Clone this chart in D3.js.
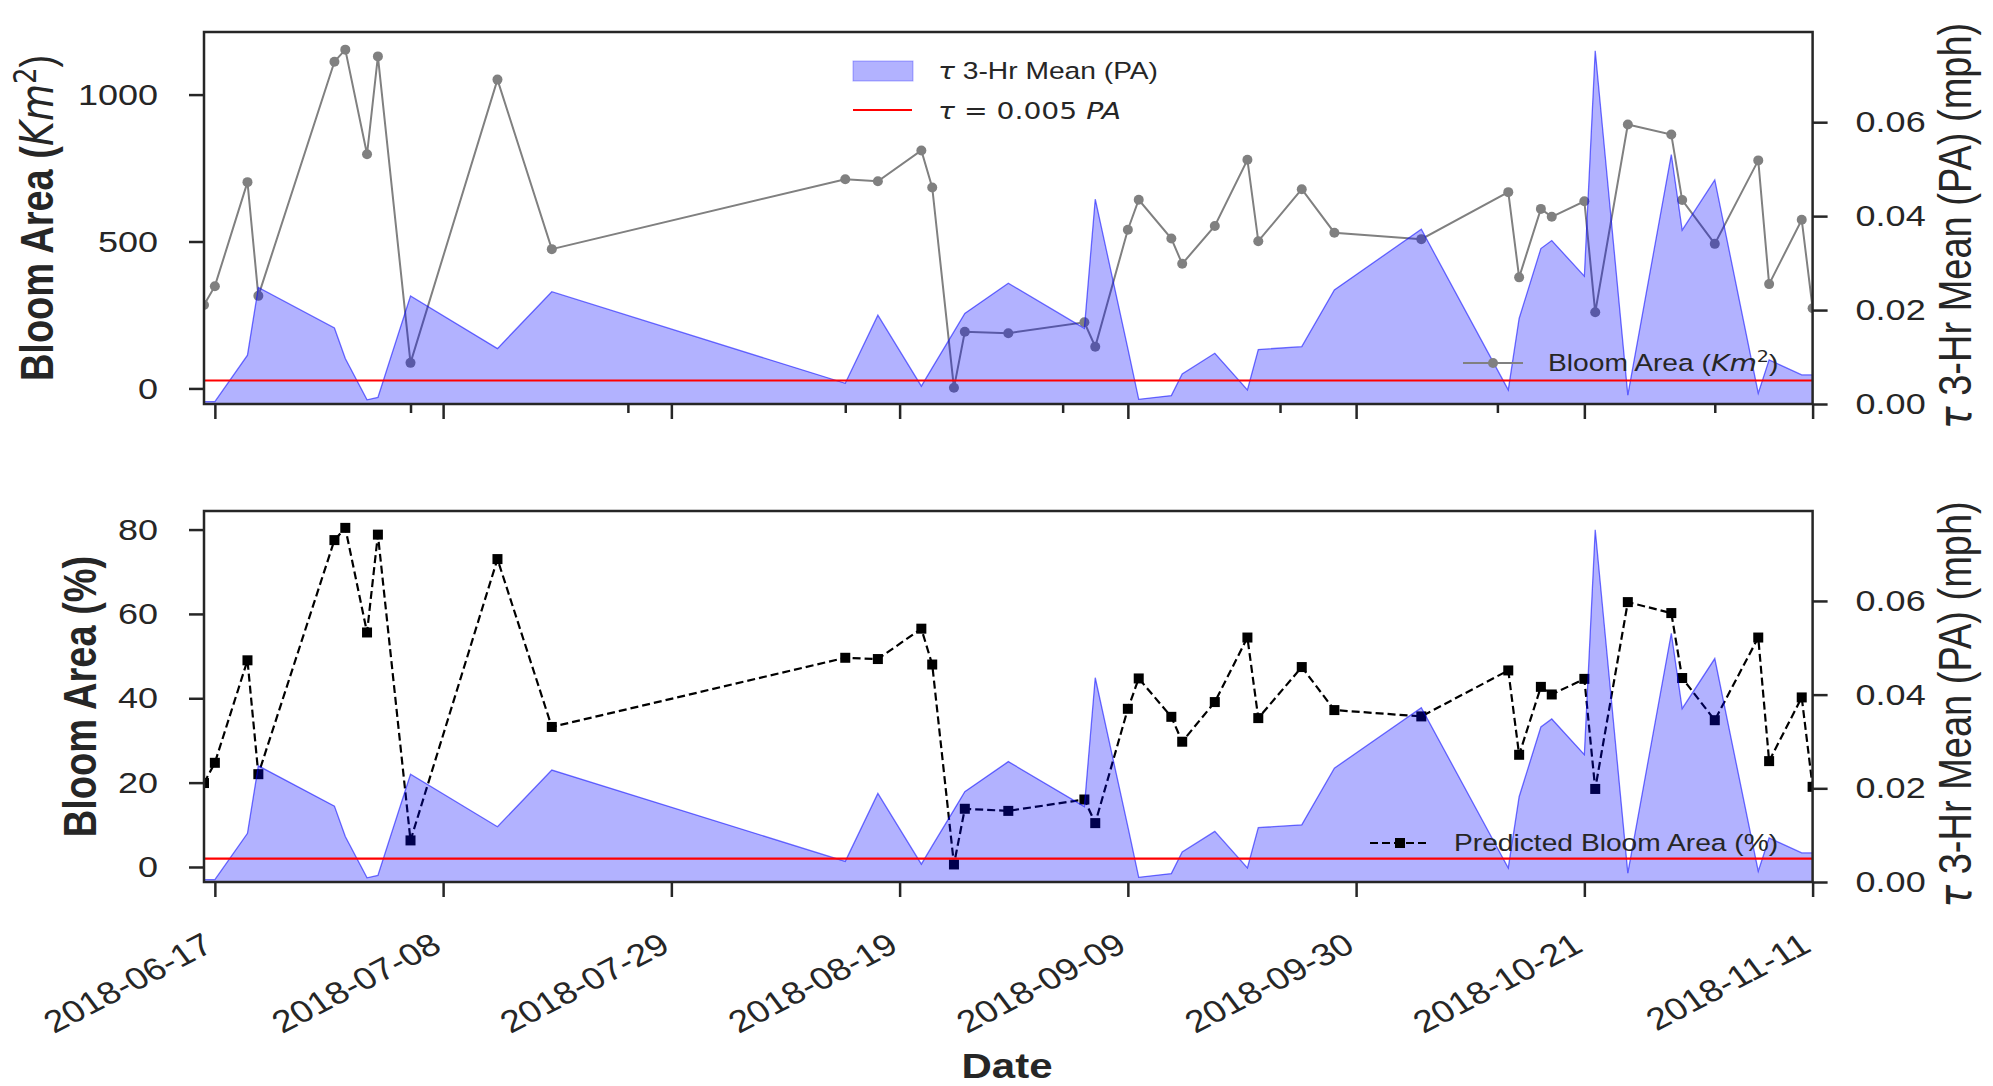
<!DOCTYPE html>
<html><head><meta charset="utf-8">
<script src="https://cdn.jsdelivr.net/npm/d3@7"></script>
<style>body{margin:0;background:#fff} svg{display:block}</style>
</head><body><svg id="c" width="1993" height="1086"></svg>
<script>
// ---------- data ----------
const dates = ["2018-06-16","2018-06-17","2018-06-20","2018-06-21","2018-06-28","2018-06-29","2018-07-01","2018-07-02","2018-07-05","2018-07-13","2018-07-18","2018-08-14","2018-08-17","2018-08-21","2018-08-22","2018-08-24","2018-08-25","2018-08-29","2018-09-05","2018-09-06","2018-09-09","2018-09-10","2018-09-13","2018-09-14","2018-09-17","2018-09-20","2018-09-21","2018-09-25","2018-09-28","2018-10-06","2018-10-14","2018-10-15","2018-10-17","2018-10-18","2018-10-21","2018-10-22","2018-10-25","2018-10-29","2018-10-30","2018-11-02","2018-11-06","2018-11-07","2018-11-10","2018-11-11"];
const bloomKm2 = [284,348,702,315,1112,1153,797,1130,87,1051,474,712,705,810,684,2,193,188,225,142,540,642,510,424,553,778,501,678,530,508,668,378,611,584,637,259,898,864,641,492,776,355,574,273];
const bloomPct = [19.9,24.7,49.0,22.0,77.5,80.4,55.6,78.8,6.3,73.0,33.2,49.6,49.3,56.5,48.0,0.6,13.8,13.3,16.0,10.4,37.5,44.7,35.6,29.7,39.1,54.4,35.3,47.4,37.2,35.7,46.6,26.6,42.7,40.9,44.6,18.5,62.8,60.2,44.8,34.8,54.4,25.1,40.2,19.0];
const tauMean = [0.0005,0.0005,0.0104,0.0248,0.0162,0.0097,0.0009,0.0014,0.0230,0.0118,0.0239,0.0044,0.0189,0.0038,0.0077,0.0154,0.0193,0.0257,0.0161,0.0436,0.0118,0.0010,0.0018,0.0064,0.0108,0.0030,0.0116,0.0122,0.0243,0.0372,0.0030,0.0182,0.0331,0.0348,0.0272,0.0752,0.0019,0.0531,0.0370,0.0477,0.0023,0.0094,0.0062,0.0062];
const tauThreshold = 0.005;
const majorTickDates = ["2018-06-17","2018-07-08","2018-07-29","2018-08-19","2018-09-09","2018-09-30","2018-10-21","2018-11-11"];
const minorTickDates = ["2018-07-05","2018-07-25","2018-08-14","2018-09-03","2018-09-23","2018-10-13","2018-11-02"];
const leftTicksTop = [0,500,1000];
const leftTicksBot = [0,20,40,60,80];
const rightTicks = [0,0.02,0.04,0.06];

// ---------- setup ----------
const SX = 1.2;
const INK = "#262626";
const SANS = "'Liberation Sans', Arial, sans-serif";
const MATH = "'DejaVu Sans', sans-serif";
const parseD = d3.timeParse("%Y-%m-%d");
const dts = dates.map(parseD);
const svg = d3.select("#c");
const X0 = 204, X1 = 1812.6;
const panels = [
  {t:32, b:404, left:bloomKm2, dom:[-53,1213], ticks:leftTicksTop, kind:"km"},
  {t:511, b:882, left:bloomPct, dom:[-3.56,84.4], ticks:leftTicksBot, kind:"pct"}
];
const x = d3.scaleTime().domain(d3.extent(dts)).range([X0,X1]);

function stretch(sel){
  sel.each(function(){
    const t = d3.select(this);
    const tx = +t.attr("x")||0, ty = +t.attr("y")||0;
    t.attr("x",0).attr("y",0).attr("transform",`translate(${tx},${ty}) scale(${SX},1)`);
  });
}
function styleAxis(g){
  g.select(".domain").remove();
  g.selectAll(".tick line").attr("stroke",INK).attr("stroke-width",2.5);
  g.selectAll(".tick text").attr("fill",INK).style("font-family",SANS).style("font-size","30px");
}

panels.forEach((p,i)=>{
  const yL = d3.scaleLinear().domain(p.dom).range([p.b,p.t]);
  const yR = d3.scaleLinear().domain([0,0.0792]).range([p.b,p.t]);
  const cid = "clip"+i;
  svg.append("clipPath").attr("id",cid).append("rect")
    .attr("x",X0).attr("y",p.t).attr("width",X1-X0).attr("height",p.b-p.t);
  const g = svg.append("g").attr("clip-path",`url(#${cid})`);
  const pts = dts.map((d,k)=>({d, v:p.left[k], tau:tauMean[k]}));

  // left series
  const line = d3.line().x(d=>x(d.d)).y(d=>yL(d.v));
  if(p.kind==="km"){
    g.append("path").datum(pts).attr("d",line).attr("fill","none")
      .attr("stroke","#808080").attr("stroke-width",2);
    g.selectAll("circle.m").data(pts).join("circle").attr("class","m")
      .attr("cx",d=>x(d.d)).attr("cy",d=>yL(d.v)).attr("r",5).attr("fill","#808080");
  } else {
    g.append("path").datum(pts).attr("d",line).attr("fill","none")
      .attr("stroke","#000").attr("stroke-width",2.2).attr("stroke-dasharray","8,4");
    g.selectAll("rect.m").data(pts).join("rect").attr("class","m")
      .attr("x",d=>x(d.d)-5).attr("y",d=>yL(d.v)-5).attr("width",10).attr("height",10).attr("fill","#000");
  }

  // legend for left series (drawn under the area)
  const lg = svg.append("g");
  if(p.kind==="km"){
    const ly = 363;
    lg.append("line").attr("x1",1463).attr("x2",1523).attr("y1",ly).attr("y2",ly)
      .attr("stroke","#808080").attr("stroke-width",2);
    lg.append("circle").attr("cx",1493).attr("cy",ly).attr("r",5).attr("fill","#808080");
    const t = lg.append("text").attr("transform",`translate(1548,${ly+8}) scale(${SX},1)`)
      .attr("fill",INK).style("font-family",SANS).style("font-size","23.5px");
    t.append("tspan").text("Bloom Area (");
    t.append("tspan").style("font-family",MATH).style("font-style","italic").text("Km");
    t.append("tspan").attr("dy",-9).style("font-family",MATH).style("font-size","16px").text("2");
    t.append("tspan").attr("dy",9).text(")");
  } else {
    const ly = 843;
    lg.append("line").attr("x1",1370).attr("x2",1430).attr("y1",ly).attr("y2",ly)
      .attr("stroke","#000").attr("stroke-width",2.2).attr("stroke-dasharray","8,4");
    lg.append("rect").attr("x",1395).attr("y",ly-5).attr("width",10).attr("height",10).attr("fill","#000");
    lg.append("text").attr("transform",`translate(1454,${ly+8}) scale(${SX},1)`)
      .attr("fill",INK).style("font-family",SANS).style("font-size","23.5px")
      .text("Predicted Bloom Area (%)");
  }

  // tau area (twin axis, on top)
  const area = d3.area().x(d=>x(d.d)).y0(yR(0)).y1(d=>yR(d.tau));
  const lineT = d3.line().x(d=>x(d.d)).y(d=>yR(d.tau));
  g.append("path").datum(pts).attr("d",area).attr("fill","#0000ff").attr("fill-opacity",0.3);
  g.append("path").datum(pts).attr("d",lineT).attr("fill","none")
    .attr("stroke","#0000ff").attr("stroke-opacity",0.55).attr("stroke-width",1.3);
  // threshold
  g.append("line").attr("x1",X0).attr("x2",X1).attr("y1",yR(tauThreshold)).attr("y2",yR(tauThreshold))
    .attr("stroke","#ff0000").attr("stroke-width",2.2);

  // frame
  svg.append("rect").attr("x",X0).attr("y",p.t).attr("width",X1-X0).attr("height",p.b-p.t)
    .attr("fill","none").attr("stroke",INK).attr("stroke-width",2.5);

  // left axis
  const ga = svg.append("g").attr("transform",`translate(${X0},0)`)
    .call(d3.axisLeft(yL).tickValues(p.ticks).tickSize(15).tickPadding(31).tickFormat(d3.format("d")));
  styleAxis(ga); stretch(ga.selectAll(".tick text"));
  // right axis
  const gr = svg.append("g").attr("transform",`translate(${X1},0)`)
    .call(d3.axisRight(yR).tickValues(rightTicks).tickSize(15).tickPadding(28).tickFormat(d3.format(".2f")));
  styleAxis(gr); stretch(gr.selectAll(".tick text"));

  // bottom axis
  const gb = svg.append("g").attr("transform",`translate(0,${p.b})`)
    .call(d3.axisBottom(x).tickValues(majorTickDates.map(parseD)).tickSize(15)
      .tickFormat(p.kind==="km" ? ()=>"" : d3.timeFormat("%Y-%m-%d")));
  styleAxis(gb);
  if(p.kind==="km"){
    const gm = svg.append("g").attr("transform",`translate(0,${p.b})`)
      .call(d3.axisBottom(x).tickValues(minorTickDates.map(parseD)).tickSize(9).tickFormat(()=>""));
    styleAxis(gm);
  } else {
    gb.selectAll(".tick text").attr("x",0).attr("y",0).attr("dy",0)
      .attr("text-anchor","end").style("font-size","31px")
      .attr("transform",`translate(0,${950-p.b}) scale(${SX},1) rotate(-32)`);
  }

  // y labels
  const ylab = svg.append("text").attr("text-anchor","middle").attr("fill",INK)
    .attr("transform",`translate(${p.kind==="km"?53:96},${(p.t+p.b)/2}) scale(${SX},1) rotate(-90)`)
    .style("font-family",SANS).style("font-size","38px").style("font-weight","bold");
  if(p.kind==="km"){
    ylab.append("tspan").text("Bloom Area (");
    ylab.append("tspan").style("font-family",MATH).style("font-style","italic").style("font-weight","normal").text("Km");
    ylab.append("tspan").attr("dy",-14).style("font-family",MATH).style("font-weight","normal").style("font-size","26px").text("2");
    ylab.append("tspan").attr("dy",14).style("font-weight","normal").text(")");
  } else {
    ylab.text("Bloom Area (%)");
  }
  const yr = svg.append("text").attr("text-anchor","middle").attr("fill",INK)
    .attr("transform",`translate(1971,${(p.t+p.b)/2 + 8}) scale(${SX},1) rotate(-90)`)
    .style("font-family",SANS).style("font-size","38px");
  yr.append("tspan").style("font-family",MATH).style("font-style","italic").text("τ");
  yr.append("tspan").text(" 3-Hr Mean (PA) (mph)");

  // top legend (twin axis legend)
  if(p.kind==="km"){
    const L = svg.append("g");
    L.append("rect").attr("x",853).attr("y",61).attr("width",60).attr("height",20)
      .attr("fill","#0000ff").attr("fill-opacity",0.3).attr("stroke","#0000ff").attr("stroke-opacity",0.3);
    const t1 = L.append("text").attr("transform",`translate(938,79) scale(${SX},1)`).attr("fill",INK)
      .style("font-family",SANS).style("font-size","23.5px");
    t1.append("tspan").style("font-family",MATH).style("font-style","italic").text("τ");
    t1.append("tspan").text(" 3-Hr Mean (PA)");
    L.append("line").attr("x1",853).attr("x2",912).attr("y1",110).attr("y2",110)
      .attr("stroke","#ff0000").attr("stroke-width",2.2);
    const t2 = L.append("text").attr("transform",`translate(938,119) scale(${SX},1)`).attr("fill",INK)
      .style("font-family",MATH).style("font-size","23.5px");
    t2.append("tspan").style("font-style","italic").text("τ");
    t2.append("tspan").text(" = 0.005 ");
    t2.append("tspan").style("font-style","italic").text("PA");
  }
});

// x label
svg.append("text").attr("text-anchor","middle").attr("fill",INK)
  .attr("transform",`translate(1007,1078) scale(${SX},1)`)
  .style("font-family",SANS).style("font-size","35px").style("font-weight","bold").text("Date");
</script>
</body></html>
